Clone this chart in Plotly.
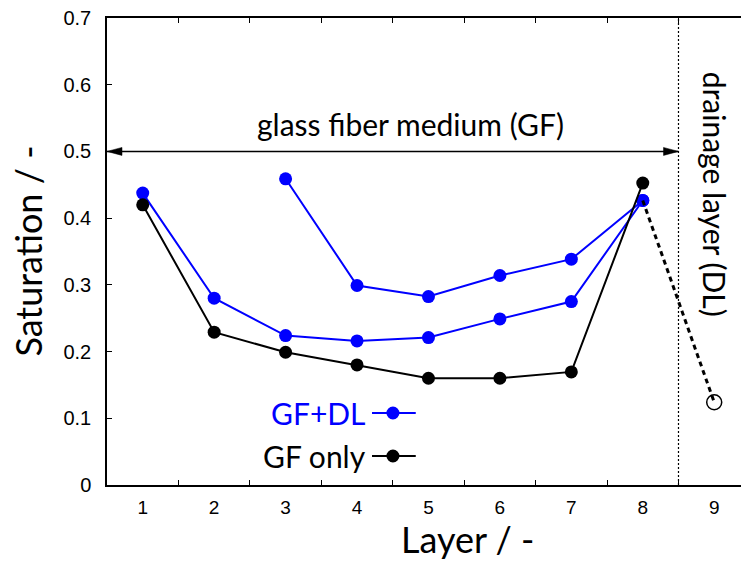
import plotly.graph_objects as go

# ---- data ----
layers = [1, 2, 3, 4, 5, 6, 7, 8]
gf_dl_run_a = [0.4375, 0.280, 0.224, 0.216, 0.221, 0.249, 0.275, 0.4265]
layers_b = [3, 4, 5, 6, 7, 8]
gf_dl_run_b = [0.459, 0.299, 0.2825, 0.314, 0.3385, 0.4265]
gf_only = [0.420, 0.229, 0.199, 0.180, 0.160, 0.160, 0.1695, 0.4525]
dl_layers = [8, 9]
dl_values = [0.4265, 0.124]

x_tick_vals = [1, 2, 3, 4, 5, 6, 7, 8, 9]
x_tick_text = ["1", "2", "3", "4", "5", "6", "7", "8", "9"]
x_minor_ticks = [1.5, 2.5, 3.5, 4.5, 5.5, 6.5, 7.5, 8.5]
y_tick_vals = [0, 0.1, 0.2, 0.3, 0.4, 0.5, 0.6, 0.7]

gf_start, gf_end = 0.5, 8.5
arrow_y = 0.5

BLUE = "#0000ff"
TEXT_FONT = "Lato"
TICK_FONT = "Liberation Sans"

fig = go.Figure()

fig.add_trace(go.Scatter(x=layers, y=gf_dl_run_a, mode="lines+markers",
                         line=dict(color=BLUE, width=2),
                         marker=dict(color=BLUE, size=13), name="GF+DL"))
fig.add_trace(go.Scatter(x=layers_b, y=gf_dl_run_b, mode="lines+markers",
                         line=dict(color=BLUE, width=2),
                         marker=dict(color=BLUE, size=13), name="GF+DL"))
fig.add_trace(go.Scatter(x=layers, y=gf_only, mode="lines+markers",
                         line=dict(color="black", width=2),
                         marker=dict(color="black", size=13), name="GF only"))
fig.add_trace(go.Scatter(x=dl_layers, y=dl_values, mode="lines",
                         line=dict(color="black", width=3, dash="5px,4px"),
                         name="DL"))
fig.add_trace(go.Scatter(x=dl_layers[1:], y=dl_values[1:], mode="markers",
                         marker=dict(symbol="circle-open", size=15, color="black",
                                     line=dict(width=1.5, color="black")),
                         name="DL"))

shapes = [
    # layer boundary
    dict(type="line", xref="x", yref="y", x0=gf_end, x1=gf_end, y0=0, y1=0.7,
         line=dict(color="black", width=1.2, dash="2px,2px"), layer="above"),
    # double arrow
    dict(type="line", xref="x", yref="y", x0=gf_start, x1=gf_end, y0=arrow_y, y1=arrow_y,
         line=dict(color="black", width=1.5)),
    dict(type="path", xref="x", yref="y", xsizemode="pixel", ysizemode="pixel",
         xanchor=gf_start, yanchor=arrow_y, path="M 0 0 L 15 4 L 15 -4 Z",
         fillcolor="black", line=dict(color="black", width=0.5)),
    dict(type="path", xref="x", yref="y", xsizemode="pixel", ysizemode="pixel",
         xanchor=gf_end, yanchor=arrow_y, path="M 0 0 L -15 4 L -15 -4 Z",
         fillcolor="black", line=dict(color="black", width=0.5)),
]

# legend samples
leg_x0, leg_x1, leg_xm = 0.418, 0.487, 0.451
leg_rows = [(0.1542, BLUE, "GF+DL"), (0.0621, "black", "GF only")]
annotations = []
for ly, col, label in leg_rows:
    shapes.append(dict(type="line", xref="paper", yref="paper", x0=leg_x0, x1=leg_x1,
                       y0=ly, y1=ly, line=dict(color=col, width=2)))
    shapes.append(dict(type="circle", xref="paper", yref="paper", xsizemode="pixel",
                       ysizemode="pixel", xanchor=leg_xm, yanchor=ly,
                       x0=-6.5, x1=6.5, y0=-6.5, y1=6.5, fillcolor=col,
                       line=dict(color=col, width=0)))
    annotations.append(dict(text=label, xref="paper", yref="paper", x=0.4117, y=ly,
                            xanchor="right", yanchor="middle", showarrow=False,
                            font=dict(family=TEXT_FONT, size=30, color=col)))

annotations += [
    dict(text="glass fiber medium (GF)", xref="x", yref="y", x=4.75, y=0.5415,
         showarrow=False, xanchor="center", yanchor="middle",
         font=dict(family=TEXT_FONT, size=30, color="black")),
    dict(text="drainage layer (DL)", xref="x", yref="y", x=9.01, y=0.435,
         showarrow=False, textangle=90, xanchor="center", yanchor="middle",
         font=dict(family=TEXT_FONT, size=30, color="black")),
    dict(text="Saturation / -", xref="paper", yref="paper", x=-0.126, y=0.5,
         showarrow=False, textangle=-90, xanchor="center", yanchor="middle",
         font=dict(family=TEXT_FONT, size=36, color="black")),
    dict(text="Layer / -", xref="paper", yref="paper", x=0.569, y=-0.115,
         showarrow=False, xanchor="center", yanchor="middle",
         font=dict(family=TEXT_FONT, size=36, color="black")),
]

fig.update_layout(
    width=741, height=563,
    margin=dict(l=107, r=0, t=18, b=78),
    paper_bgcolor="white", plot_bgcolor="white",
    showlegend=False,
    shapes=shapes, annotations=annotations,
    xaxis=dict(range=[0.5, 9.375], tickmode="array", tickvals=x_tick_vals,
               ticktext=x_tick_text, ticks="", showgrid=False, zeroline=False,
               showline=True, linecolor="black", linewidth=1.5, mirror="ticks",
               minor=dict(tickmode="array", tickvals=x_minor_ticks, ticks="inside",
                          ticklen=5, tickwidth=1, tickcolor="black", showgrid=False),
               tickfont=dict(family=TICK_FONT, size=19, color="black"),
               ticklabelstandoff=4),
    yaxis=dict(range=[0, 0.7], tickmode="array", tickvals=y_tick_vals,
               ticks="inside", ticklen=5, tickwidth=1, tickcolor="black",
               showgrid=False, zeroline=False, showline=True, linecolor="black",
               linewidth=1.5, mirror=False,
               tickfont=dict(family=TICK_FONT, size=20, color="black"),
               ticklabelstandoff=10),
)

fig.write_html("out.html")
